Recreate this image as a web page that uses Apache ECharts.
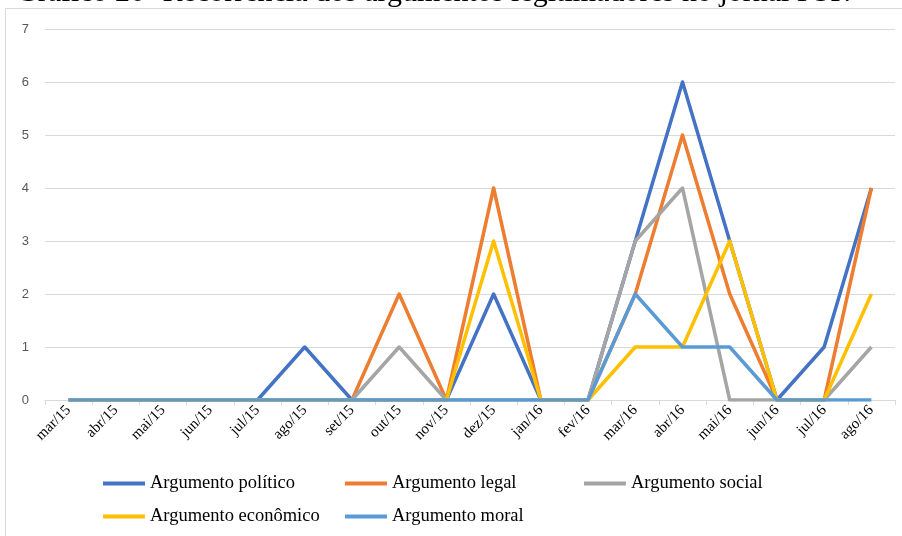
<!DOCTYPE html>
<html>
<head>
<meta charset="utf-8">
<script src="https://cdn.jsdelivr.net/npm/echarts@6/dist/echarts.min.js"></script>
<style>
  html, body { margin: 0; padding: 0; background: #fff; }
  #chart { width: 902px; height: 536px; }
</style>
</head>
<body>
<div id="chart"></div>
<script>
// Months covered by the survey
const months = ['mar/15', 'abr/15', 'mai/15', 'jun/15', 'jul/15', 'ago/15', 'set/15', 'out/15', 'nov/15',
  'dez/15', 'jan/16', 'fev/16', 'mar/16', 'abr/16', 'mai/16', 'jun/16', 'jul/16', 'ago/16'];

// Occurrences per month for each kind of argument
const politico  = [0, 0, 0, 0, 0, 1, 0, 0, 0, 2, 0, 0, 3, 6, 3, 0, 1, 4];
const legal     = [0, 0, 0, 0, 0, 0, 0, 2, 0, 4, 0, 0, 2, 5, 2, 0, 0, 4];
const social    = [0, 0, 0, 0, 0, 0, 0, 1, 0, 0, 0, 0, 3, 4, 0, 0, 0, 1];
const economico = [0, 0, 0, 0, 0, 0, 0, 0, 0, 3, 0, 0, 1, 1, 3, 0, 0, 2];
const moral     = [0, 0, 0, 0, 0, 0, 0, 0, 0, 0, 0, 0, 2, 1, 1, 0, 0, 0];

const seriesNames = ['Argumento político', 'Argumento legal', 'Argumento social', 'Argumento econômico', 'Argumento moral'];
const seriesData = [politico, legal, social, economico, moral];
const colors = ['#4472C4', '#ED7D31', '#A5A5A5', '#FFC000', '#5B9BD5'];

const titleText = 'Gráfico 20- Recorrência dos argumentos legitimadores no jornal FSP.';

// Legend grid: three columns, two rows
const legendCols = [103, 345, 584];
const legendRows = [474, 507];

const legends = seriesNames.map((name, i) => ({
  data: [name],
  left: legendCols[i % 3],
  top: legendRows[Math.floor(i / 3)],
  itemWidth: 42,
  itemHeight: 4,
  icon: 'rect',
  padding: 0,
  selectedMode: false,
  textStyle: { fontFamily: 'Liberation Serif', fontSize: 18.5, color: '#000' },
  itemStyle: { borderWidth: 0 }
}));

const chart = echarts.init(document.getElementById('chart'));
chart.setOption({
  animation: false,
  color: colors,
  graphic: [{
    type: 'rect',
    shape: { x: 5.5, y: 8.5, width: 920, height: 560 },
    style: { fill: 'none', stroke: '#D9D9D9', lineWidth: 1 },
    z: -1
  }],
  title: {
    text: titleText,
    left: 11,
    top: -27,
    textStyle: { fontFamily: 'Liberation Serif', fontSize: 30, fontWeight: 'normal', color: '#000' }
  },
  grid: { left: 45, right: 7, top: 29, bottom: 136 },
  legend: legends,
  xAxis: {
    type: 'category',
    data: months,
    boundaryGap: true,
    axisLine: { lineStyle: { color: '#D9D9D9', width: 1 } },
    axisTick: { show: true, length: 5, lineStyle: { color: '#D9D9D9' } },
    axisLabel: {
      rotate: 45,
      interval: 0,
      margin: 8,
      fontFamily: 'Liberation Serif',
      fontSize: 15,
      color: '#000'
    }
  },
  yAxis: {
    type: 'value',
    min: 0,
    max: 7,
    interval: 1,
    axisLine: { show: false },
    axisTick: { show: false },
    splitLine: { lineStyle: { color: '#D9D9D9', width: 1 } },
    axisLabel: { fontFamily: 'Liberation Sans', fontSize: 13, color: '#595959', margin: 16 }
  },
  series: seriesNames.map((name, i) => ({
    name: name,
    type: 'line',
    data: seriesData[i],
    symbol: 'none',
    lineStyle: { width: 3.5, color: colors[i], join: 'round' },
    itemStyle: { color: colors[i] },
    z: 2 + i
  }))
});
</script>
</body>
</html>
